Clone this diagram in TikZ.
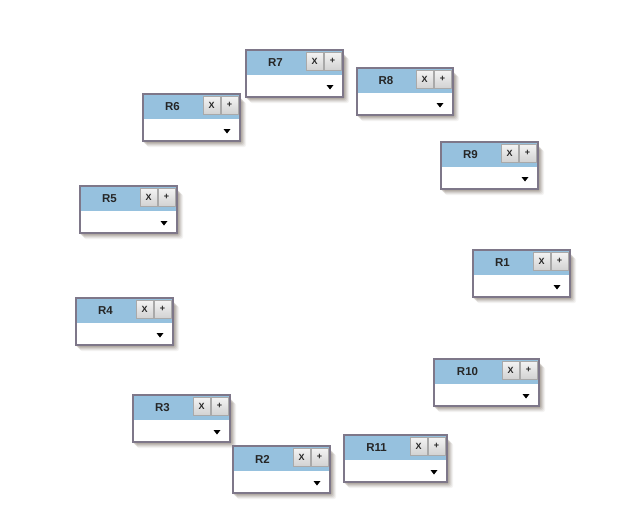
\documentclass[tikz,border=0pt]{standalone}
\usepackage{fontspec}
\setmainfont{Liberation Sans}
\definecolor{hdrblue}{HTML}{96C1DE}
\definecolor{bordercol}{HTML}{7E7789}
\definecolor{btnborder}{HTML}{A9A9A9}
\definecolor{btntop}{HTML}{F4F4F4}
\definecolor{btnbot}{HTML}{D2D2D2}
\tikzset{
  wbox/.style={draw=bordercol, line width=1.7pt, fill=white, minimum height=47pt, inner sep=0pt, outer sep=0pt},
  hdr/.style={fill=hdrblue},
  btn/.style={draw=btnborder, line width=0.6pt, top color=btntop, bottom color=btnbot, minimum width=17pt, minimum height=18pt, inner sep=0pt, outer sep=0pt, font=\fontsize{9}{10}\selectfont\bfseries, text=black!85},
  lbl/.style={font=\fontsize{11.5}{13}\selectfont\bfseries, text=black!85, inner sep=0pt},
  arrowtri/.style={fill=black},
  shadowlayer/.style={fill=black!70!brown, rounded corners=2pt}
}
\newcommand{\rwidget}[5]{%
  \pgfmathsetmacro\wl{#2}%
  \pgfmathsetmacro\wt{#3}%
  \pgfmathsetmacro\wr{#2+#4}%
  \pgfmathsetmacro\wb{#3+47}%
  \foreach \s/\o in {6/0.05,5/0.07,4/0.09,3/0.11,2/0.13}{%
    \fill[shadowlayer, opacity=\o] (\wl+\s-2,\wt+\s+2) rectangle (\wr+\s,\wb+\s);
  }
  \node[wbox, minimum width=#4pt, anchor=north west] (#1) at (\wl,\wt) {};
  \fill[hdr] (\wl+0.85,\wt+0.85) rectangle (\wr-0.85,\wt+25);
  \node[btn, anchor=north east] (#1p) at (\wr-2,\wt+2) {+};
  \node[btn, anchor=north east] (#1x) at ([xshift=-1pt]#1p.north west) {X};
  \node[lbl] (#1l) at ({(\wl+\wr-38)/2},\wt+13) {#5};
  \fill[arrowtri] (\wr-16.5,\wt+35) -- (\wr-9.5,\wt+35) -- (\wr-13,\wt+39.5) -- cycle;
}
\begin{document}
\begin{tikzpicture}[x=1pt,y=-1pt]
\fill[white] (0,0) rectangle (644,528);
\useasboundingbox (0,0) rectangle (644,528);
\rwidget{r7}{246}{50}{97}{R7}
\rwidget{r8}{357}{68}{96}{R8}
\rwidget{r6}{143}{94}{97}{R6}
\rwidget{r9}{441}{142}{97}{R9}
\rwidget{r5}{80}{186}{97}{R5}
\rwidget{r1}{473}{250}{97}{R1}
\rwidget{r4}{76}{298}{97}{R4}
\rwidget{r10}{434}{359}{105}{R10}
\rwidget{r3}{133}{395}{97}{R3}
\rwidget{r11}{344}{435}{103}{R11}
\rwidget{r2}{233}{446}{97}{R2}
\end{tikzpicture}
\end{document}
